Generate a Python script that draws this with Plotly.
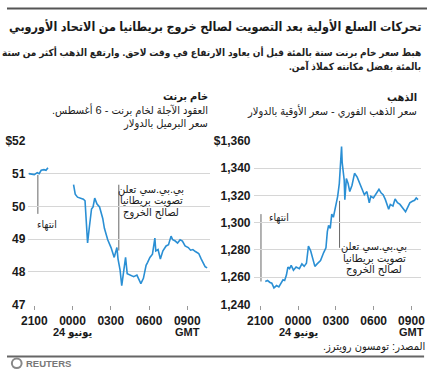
import plotly.graph_objects as go

W, H = 431, 378

brent_hours = [-0.44, -0.23, 0.0, 0.23, 0.38, 0.54, 0.76, 0.92, 1.07, None,
               3.08, 3.21, 3.39, 3.59, 3.85, 3.98, 4.11, 4.18, 4.30, 4.41, 4.49, 4.61, 4.74, 4.92,
               5.12, 5.37, 5.50, 5.76, 6.02, 6.27, 6.48, 6.57, 6.73, 6.86, 6.98, 7.16, 7.29,
               7.55, 7.80, 8.05, 8.36, 8.56, 8.77, 8.89, 9.07, 9.27, 9.46, 9.53, 9.71, 9.89,
               10.09, 10.34, 10.53, 10.73, 10.86, 11.06, 11.24, 11.44, 11.62, 11.83, 12.08,
               12.26, 12.44, 12.64, 12.90, 13.10, 13.28, 13.40, 13.56]
brent_price = [51.0, 50.99, 50.97, 51.03, 51.0, 51.1, 51.12, 51.1, 51.18, None,
               50.66, 50.37, 50.28, 50.25, 50.22, 50.17, 49.33, 48.88, 49.3, 49.7, 49.92, 49.98, 50.25, 50.07,
               49.98, 49.63, 49.33, 48.98, 48.74, 48.44, 48.74, 48.39, 48.05, 47.58, 47.94, 48.44, 47.94,
               47.9, 47.85, 47.9, 47.64, 47.8, 48.2, 48.29, 48.44, 48.54, 49.03, 48.64, 48.68, 48.39,
               48.64, 48.79, 48.83, 49.09, 48.98, 48.94, 48.88, 48.98, 48.94, 48.79, 48.74,
               48.66, 48.68, 48.62, 48.56, 48.39, 48.24, 48.16, 48.12]

gold_hours = [0.39, 0.57, 0.77, 0.91, 1.08, 1.29, 1.47, 1.68, 1.80, 1.93, 2.07, 2.19, 2.32, 2.45,
              2.63, 2.84, 3.10, 3.30, 3.48, 3.66, 3.82, 4.00, 4.18, 4.33, 4.51, 4.78, 5.03, 5.21,
              5.32, 5.42, 5.55, 5.67, 5.80, 5.98, 6.14, 6.27, 6.37, 6.45, 6.50, 6.58, 6.66, 6.71,
              6.83, 6.97, 7.10, 7.28, 7.48, 7.69, 7.87, 8.05, 8.26, 8.46, 8.65, 8.77, 8.98, 9.16,
              9.42, 9.60, 9.75, 9.93, 10.19, 10.32, 10.53, 10.70, 10.89, 11.09, 11.35, 11.53,
              11.69, 11.87, 12.07, 12.25, 12.38, 12.52]
gold_price = [1256.9, 1257.6, 1256.2, 1255.7, 1252.2, 1253.9, 1252.9, 1255.7, 1258.1, 1257.6,
              1261.6, 1267.5, 1266.3, 1268.7, 1265.2, 1267.5, 1266.3, 1269.8, 1268.0, 1270.3,
              1282.8, 1279.3, 1272.2, 1268.0, 1269.8, 1272.2, 1278.1, 1281.6, 1293.4, 1298.1,
              1295.8, 1306.3, 1304.0, 1312.2, 1319.3, 1328.7, 1342.8, 1355.8, 1344.0, 1336.9,
              1331.1, 1316.9, 1332.3, 1328.7, 1322.8, 1327.5, 1336.2, 1333.4, 1329.9, 1325.2,
              1320.5, 1322.8, 1314.6, 1319.3, 1318.1, 1320.5, 1324.5, 1321.7, 1320.5, 1316.9,
              1309.9, 1313.4, 1312.2, 1317.4, 1314.6, 1313.4, 1310.4, 1308.0, 1311.1, 1314.6,
              1315.7, 1316.4, 1318.1, 1316.9]

x_tickvals = [0, 3, 6, 9, 12]
x_ticktext = ["2100", "0000", "0300", "0600", "0900"]
x_subtext = {3: "يونيو 24", 12: "GMT"}

brent_tickvals = [47, 48, 49, 50, 51, 52]
brent_ticktext = ["47", "48", "49", "50", "51", "$52"]
gold_tickvals = [1240, 1260, 1280, 1300, 1320, 1340, 1360]
gold_ticktext = ["1,240", "1,260", "1,280", "1,300", "1,320", "1,340", "$1,360"]

brent_close = (0.28, 49.77, 50.96)
brent_bbc = (6.63, 48.65, 50.66)
gold_close = (0.05, 1256.9, 1306.3)
gold_bbc = (6.29, 1281.6, 1316.0)

RLM = "\u200f"
title = "تحركات السلع الأولية بعد التصويت لصالح خروج بريطانيا من الاتحاد الأوروبي"
subtitle = ["هبط سعر خام برنت ستة بالمئة قبل أن يعاود الارتفاع في وقت لاحق. وارتفع الذهب أكثر من ستة",
            "بالمئة بفضل مكانته كملاذ آمن." + RLM]
brent_head = "خام برنت"
brent_sub = ["العقود الآجلة لخام برنت - 6 أغسطس." + RLM, "سعر البرميل بالدولار"]
gold_head = "الذهب"
gold_sub = ["سعر الذهب الفوري - سعر الأوقية بالدولار"]
close_lbl = "انتهاء"
bbc_lbl = ["بي.بي.سي تعلن", "تصويت بريطانيا", "لصالح الخروج"]
source = "المصدر: تومسون رويترز." + RLM

FONT = "Arial, 'Liberation Sans', 'DejaVu Sans Condensed', 'DejaVu Sans', sans-serif"
BLUE = "#2a8fd4"
GRID = "#d6d6d6"
TXT = "#1a1a1a"

def px(x):
    return x / W
def py(y):
    return 1 - y / H

fig = go.Figure()
fig.add_trace(go.Scatter(x=brent_hours, y=brent_price, mode="lines", connectgaps=False,
                         line=dict(color=BLUE, width=1.6), xaxis="x", yaxis="y", showlegend=False,
                         hoverinfo="skip"))
fig.add_trace(go.Scatter(x=gold_hours, y=gold_price, mode="lines",
                         line=dict(color=BLUE, width=1.6), xaxis="x2", yaxis="y2", showlegend=False,
                         hoverinfo="skip"))

ydom = [py(309), py(139)]
common_x = dict(tickvals=x_tickvals, ticktext=x_ticktext, ticks="outside", ticklen=4,
                tickcolor="#999999", tickwidth=1, showgrid=False, zeroline=False, showline=False,
                tickangle=0, ticklabelstandoff=1,
                tickfont=dict(family=FONT, size=12, color=TXT, weight="bold"))
common_y = dict(ticks="", showgrid=True, gridcolor=GRID, gridwidth=1, zeroline=False,
                showline=False, tickfont=dict(family=FONT, size=12, color=TXT, weight="bold"),
                ticklabelstandoff=2)

fig.update_layout(
    width=W, height=H, margin=dict(l=0, r=0, t=0, b=0),
    paper_bgcolor="white", plot_bgcolor="white",
    xaxis=dict(domain=[px(22), px(208)], range=[-0.46, 13.76], anchor="y", **common_x),
    yaxis=dict(domain=ydom, range=[47, 52], tickvals=brent_tickvals, ticktext=brent_ticktext,
               anchor="x", **common_y),
    xaxis2=dict(domain=[px(253), px(425)], range=[-0.54, 12.77], anchor="y2", **common_x),
    yaxis2=dict(domain=ydom, range=[1240, 1360], tickvals=gold_tickvals, ticktext=gold_ticktext,
                anchor="x2", **common_y),
)

shapes = []
shapes.append(dict(type="line", xref="paper", yref="paper", x0=0, x1=1, y0=py(1.5), y1=py(1.5),
                   line=dict(color="#555555", width=2)))
shapes.append(dict(type="line", xref="paper", yref="paper", x0=0, x1=px(428), y0=py(363), y1=py(363),
                   line=dict(color="#666666", width=2)))
for (xr, yr, ev) in [("x", "y", brent_close), ("x", "y", brent_bbc),
                     ("x2", "y2", gold_close), ("x2", "y2", gold_bbc)]:
    shapes.append(dict(type="line", xref=xr, yref=yr, x0=ev[0], x1=ev[0], y0=ev[1], y1=ev[2],
                       line=dict(color="#666666", width=1), layer="below"))
shapes.append(dict(type="circle", xref="paper", yref="paper", x0=px(5), x1=px(15), y0=py(375), y1=py(365),
                   line=dict(color="#888888", width=2)))
fig.update_layout(shapes=shapes)

ann = []
def A(text, x, y, size, xanchor="right", bold=False, color=TXT, xref="paper", yref="paper"):
    ann.append(dict(text=text, x=x, y=y, xref=xref, yref=yref, xanchor=xanchor, yanchor="middle",
                    showarrow=False, align="center", borderpad=0,
                    font=dict(family=FONT, size=size, color=color, weight="bold" if bold else "normal")))

A(title, px(426), py(20), 12.5, bold=True)
for i, s in enumerate(subtitle):
    A(s, px(426), py(47 + 15 * i), 10, bold=True, color="#222222")
A(brent_head, px(207), py(93), 11, bold=True)
for i, s in enumerate(brent_sub):
    A(s, px(207), py(107 + 14 * i), 11)
A(gold_head, px(422), py(93), 11, bold=True)
for i, s in enumerate(gold_sub):
    A(s, px(422), py(108 + 14 * i), 11)
A(close_lbl, px(30), py(226), 10.5, xanchor="left")
A(close_lbl, px(268), py(219), 10.5, xanchor="left")
for i, s in enumerate(bbc_lbl):
    A(s, px(148), py(189 + 12 * i), 11, xanchor="center")
    A(s, px(377), py(249 + 12 * i), 11, xanchor="center")
for xa, xv in [("x", 3), ("x", 12), ("x2", 3), ("x2", 12)]:
    A(x_subtext[xv], xv, py(338), 11, xanchor="center", bold=True, xref=xa)
A(source, px(430), py(353), 11)
A("REUTERS", px(18), py(370), 9.5, xanchor="left", bold=True, color="#777777")
fig.update_layout(annotations=ann)

fig.write_html("out.html", config={"displayModeBar": False},
               post_script="document.body.style.margin='0';document.body.style.padding='0';"
                           "document.documentElement.style.overflow='hidden';")
